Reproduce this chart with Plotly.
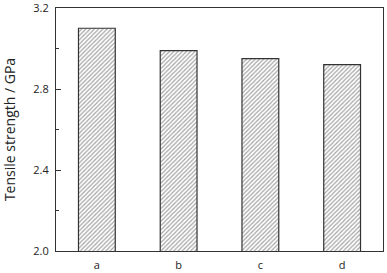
import plotly.graph_objects as go

categories = ["a", "b", "c", "d"]
strength = [3.10, 2.99, 2.95, 2.92]
y_ticks = [2.0, 2.4, 2.8, 3.2]
y_tick_labels = ["2.0", "2.4", "2.8", "3.2"]

fig = go.Figure()
fig.add_trace(go.Bar(
    x=categories, y=strength, base=0,
    width=0.45,
    marker=dict(
        color="white",
        line=dict(color="#333333", width=1.2),
        pattern=dict(shape="/", size=3, solidity=0.4, fgcolor="#4a4a4a", bgcolor="white"),
    ),
    showlegend=False,
))

fig.update_layout(
    width=387, height=273,
    margin=dict(l=56, r=4, t=8, b=22),
    plot_bgcolor="white", paper_bgcolor="white",
    font=dict(family="Open Sans", size=11, color="#222222"),
    bargap=0.55,
)
fig.update_xaxes(
    range=[-0.5, 3.5], showline=True, mirror=True, linecolor="#333333", linewidth=1,
    ticks="", showgrid=False, tickfont=dict(size=11), ticklabelstandoff=4,
    automargin=False, ticklabeloverflow="allow",
)
fig.update_yaxes(
    range=[2.0, 3.2], tickvals=y_ticks, ticktext=y_tick_labels,
    showline=True, mirror=True, linecolor="#333333", linewidth=1,
    ticks="inside", ticklen=5, tickcolor="#333333", showgrid=False,
    minor=dict(dtick=0.2, ticks="inside", ticklen=3, tickcolor="#333333", showgrid=False),
    title=dict(text="Tensile strength / GPa", font=dict(size=14), standoff=14),
    tickfont=dict(size=11), ticklabelstandoff=4,
    automargin=False, ticklabeloverflow="allow",
)
fig.write_html("out.html", config={"displayModeBar": False},
               post_script="document.body.style.margin='0';document.body.style.overflow='hidden';")
